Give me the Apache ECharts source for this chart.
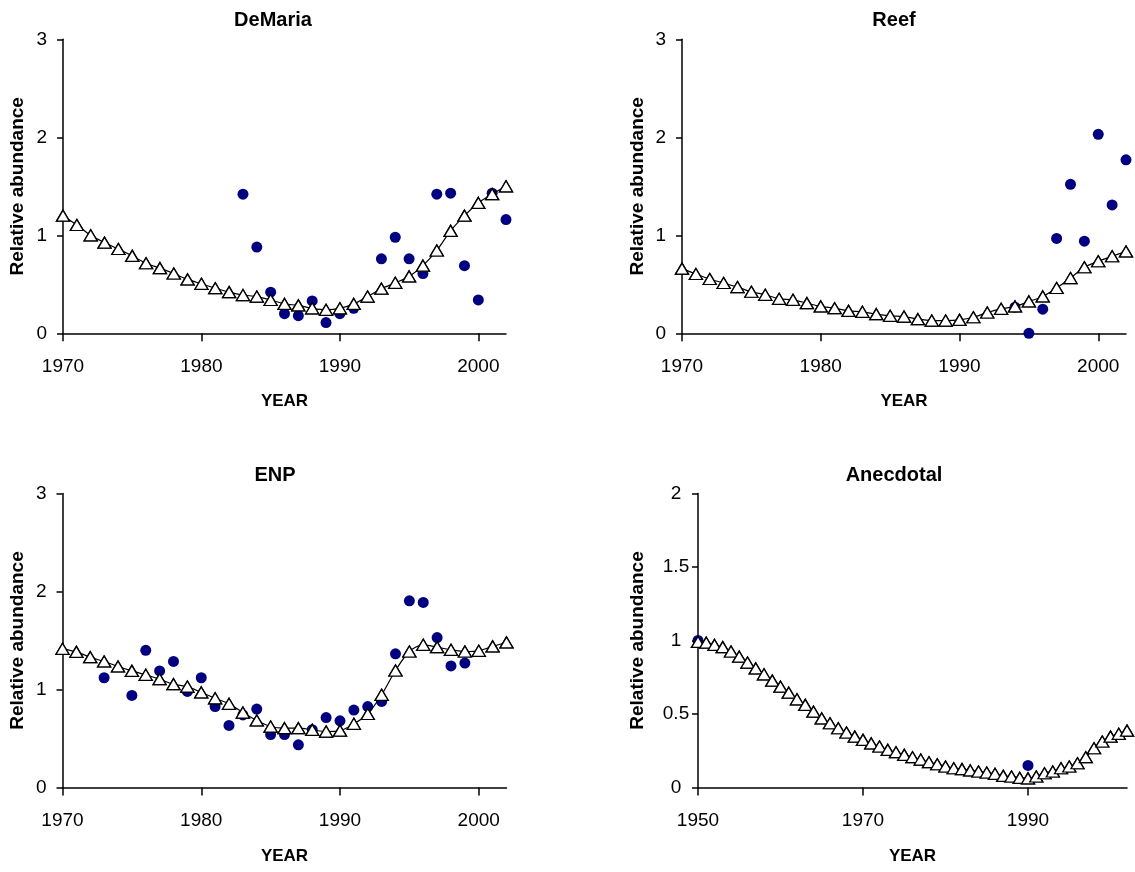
<!DOCTYPE html>
<html>
<head>
<meta charset="utf-8">
<script src="https://cdn.jsdelivr.net/npm/echarts@6/dist/echarts.min.js"></script>
<style>
  html, body { margin: 0; padding: 0; background: #fff; }
  #chart { width: 1135px; height: 872px; }
</style>
</head>
<body>
<div id="chart"></div>
<script>
// model years (triangles) and fitted values
const years7002 = [1970, 1971, 1972, 1973, 1974, 1975, 1976, 1977, 1978, 1979,
  1980, 1981, 1982, 1983, 1984, 1985, 1986, 1987, 1988, 1989,
  1990, 1991, 1992, 1993, 1994, 1995, 1996, 1997, 1998, 1999,
  2000, 2001, 2002];
const years5002 = [1950, 1951, 1952, 1953, 1954, 1955, 1956, 1957, 1958, 1959,
  1960, 1961, 1962, 1963, 1964, 1965, 1966, 1967, 1968, 1969].concat(years7002);

const demariaModel = [1.20, 1.105, 1.00, 0.925, 0.86, 0.79, 0.715, 0.665, 0.61, 0.55,
  0.505, 0.46, 0.42, 0.39, 0.375, 0.34, 0.30, 0.285, 0.255, 0.24,
  0.255, 0.30, 0.375, 0.455, 0.515, 0.58, 0.69, 0.845, 1.045, 1.20,
  1.33, 1.42, 1.50];
const demariaObsYears = [1983, 1984, 1985, 1986, 1987, 1988, 1989, 1990, 1991, 1993,
  1994, 1995, 1996, 1997, 1998, 1999, 2000, 2001, 2002];
const demariaObs = [1.42, 0.88, 0.42, 0.20, 0.18, 0.33, 0.11, 0.20, 0.255, 0.76,
  0.98, 0.76, 0.61, 1.42, 1.43, 0.69, 0.34, 1.43, 1.16];

const reefModel = [0.66, 0.605, 0.554, 0.513, 0.472, 0.424, 0.393, 0.352, 0.342, 0.308,
  0.274, 0.256, 0.229, 0.219, 0.195, 0.178, 0.171, 0.144, 0.130, 0.130,
  0.137, 0.164, 0.212, 0.250, 0.274, 0.325, 0.376, 0.462, 0.564, 0.674,
  0.735, 0.786, 0.835];
const reefObsYears = [1994, 1995, 1996, 1997, 1998, 1999, 2000, 2001, 2002];
const reefObs = [0.267, 0.0, 0.246, 0.968, 1.52, 0.94, 2.03, 1.31, 1.77];

const enpModel = [1.415, 1.384, 1.33, 1.286, 1.235, 1.19, 1.15, 1.105, 1.054, 1.03,
  0.97, 0.91, 0.854, 0.765, 0.684, 0.622, 0.605, 0.605, 0.588, 0.571,
  0.58, 0.65, 0.75, 0.946, 1.194, 1.388, 1.456, 1.432, 1.405, 1.388,
  1.395, 1.44, 1.48];
const enpObsYears = [1973, 1975, 1976, 1977, 1978, 1979, 1980, 1981, 1982, 1983,
  1984, 1985, 1986, 1987, 1988, 1989, 1990, 1991, 1992, 1993,
  1994, 1995, 1996, 1997, 1998, 1999];
const enpObs = [1.12, 0.94, 1.40, 1.19, 1.286, 0.98, 1.12, 0.826, 0.633, 0.74,
  0.80, 0.54, 0.54, 0.435, 0.59, 0.714, 0.68, 0.79, 0.826, 0.878,
  1.364, 1.905, 1.888, 1.53, 1.24, 1.27];

const anecModel = [0.99, 0.985, 0.97, 0.955, 0.925, 0.89, 0.85, 0.81, 0.77, 0.727,
  0.686, 0.645, 0.60, 0.562, 0.516, 0.47, 0.437, 0.403, 0.374, 0.346,
  0.324, 0.30, 0.279, 0.256, 0.24, 0.222, 0.206, 0.19, 0.172, 0.158,
  0.143, 0.131, 0.125, 0.116, 0.109, 0.102, 0.093, 0.079, 0.075, 0.065,
  0.062, 0.075, 0.097, 0.109, 0.131, 0.143, 0.165, 0.206, 0.267, 0.313,
  0.346, 0.365, 0.387];
const anecObsYears = [1950, 1990];
const anecObs = [1.0, 0.15];

const titles = ['DeMaria', 'Reef', 'ENP', 'Anecdotal'];
const xTicks7002 = [1970, 1980, 1990, 2000];
const xTicks5002 = [1950, 1970, 1990];

const FONT = '"Liberation Sans", Arial, sans-serif';

function pairs(xs, ys) {
  return xs.map((x, i) => [x, ys[i]]);
}

const panels = [
  { grid: { left: 63, top: 39.3, width: 443, height: 294 }, xmin: 1970, xint: 10, ticks: xTicks7002,
    ymax: 3, yint: 1, model: pairs(years7002, demariaModel), obs: pairs(demariaObsYears, demariaObs),
    titleX: 273, titleY: 20, nameGap: 36, labelAlign: 'right', labelMargin: 16 },
  { grid: { left: 682, top: 39.3, width: 444, height: 294 }, xmin: 1970, xint: 10, ticks: xTicks7002,
    ymax: 3, yint: 1, model: pairs(years7002, reefModel), obs: pairs(reefObsYears, reefObs),
    titleX: 894, titleY: 20, nameGap: 35, labelAlign: 'right', labelMargin: 16 },
  { grid: { left: 62.5, top: 493.5, width: 444, height: 294 }, xmin: 1970, xint: 10, ticks: xTicks7002,
    ymax: 3, yint: 1, model: pairs(years7002, enpModel), obs: pairs(enpObsYears, enpObs),
    titleX: 275, titleY: 475, nameGap: 35, labelAlign: 'right', labelMargin: 16 },
  { grid: { left: 698, top: 493.5, width: 429, height: 294 }, xmin: 1950, xint: 20, ticks: xTicks5002,
    ymax: 2, yint: 0.5, model: pairs(years5002, anecModel), obs: pairs(anecObsYears, anecObs),
    titleX: 894, titleY: 475, nameGap: 51, labelAlign: 'center', labelMargin: 22 }
];

const axisLine = { show: true, onZero: false, lineStyle: { color: '#000', width: 1.5 } };

const option = {
  animation: false,
  backgroundColor: '#fff',
  grid: panels.map(p => Object.assign({ containLabel: false }, p.grid)),
  xAxis: panels.map((p, i) => ({
    type: 'value', gridIndex: i, min: p.xmin, max: 2002, interval: p.xint,
    name: 'YEAR', nameLocation: 'middle', nameGap: 60,
    nameTextStyle: { color: '#000', fontFamily: FONT, fontWeight: 'bold', fontSize: 17 },
    axisLine: axisLine,
    axisTick: { show: true, length: 8, lineStyle: { color: '#000', width: 1.5 }, customValues: p.ticks },
    axisLabel: { color: '#000', fontFamily: FONT, fontSize: 19, margin: 24, customValues: p.ticks,
      formatter: v => String(v) },
    splitLine: { show: false }
  })),
  yAxis: panels.map((p, i) => ({
    type: 'value', gridIndex: i, min: 0, max: p.ymax, interval: p.yint,
    name: 'Relative abundance', nameLocation: 'middle', nameGap: p.nameGap,
    nameTextStyle: { color: '#000', fontFamily: FONT, fontWeight: 'bold', fontSize: 19 },
    axisLine: axisLine,
    axisTick: { show: true, length: 6, lineStyle: { color: '#000', width: 1.5 } },
    axisLabel: { color: '#000', fontFamily: FONT, fontSize: 19, margin: p.labelMargin, align: p.labelAlign,
      formatter: v => String(v) },
    splitLine: { show: false }
  })),
  series: [],
  graphic: panels.map((p, i) => ({
    type: 'text', x: p.titleX, y: p.titleY, silent: true,
    style: {
      text: titles[i], fill: '#000', font: 'bold 20px ' + FONT,
      align: 'center', verticalAlign: 'middle',
      textAlign: 'center', textVerticalAlign: 'middle'
    }
  }))
};

panels.forEach((p, i) => {
  // fitted line with open triangles
  option.series.push({
    type: 'line', xAxisIndex: i, yAxisIndex: i, data: p.model,
    smooth: 0.3, clip: false, showAllSymbol: true,
    symbol: 'triangle', symbolSize: [13, 11],
    lineStyle: { color: '#000', width: 1.2 },
    itemStyle: { color: '#fff', borderColor: '#000', borderWidth: 1.3, opacity: 1 }
  });
  // observed index
  option.series.push({
    type: 'scatter', xAxisIndex: i, yAxisIndex: i, data: p.obs, clip: false,
    symbol: 'circle', symbolSize: 11,
    itemStyle: { color: '#000080', opacity: 1 }
  });
  // triangle outlines on top of the dots
  option.series.push({
    type: 'scatter', xAxisIndex: i, yAxisIndex: i, data: p.model, clip: false,
    symbol: 'triangle', symbolSize: [13, 11],
    itemStyle: { color: 'rgba(0,0,0,0)', borderColor: '#000', borderWidth: 1.3, opacity: 1 }
  });
});

const chart = echarts.init(document.getElementById('chart'));
chart.setOption(option);
</script>
</body>
</html>
